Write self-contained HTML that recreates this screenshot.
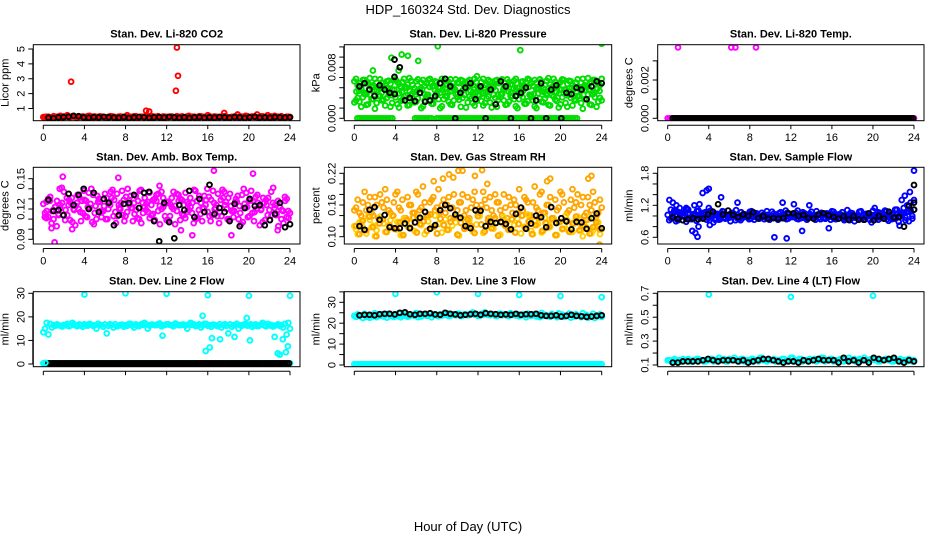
<!DOCTYPE html>
<html><head><meta charset="utf-8"><style>
html,body{margin:0;padding:0;background:#fff}
svg{display:block;font-family:"Liberation Sans",Arial,sans-serif}
</style></head><body>
<svg id="chart" width="936" height="540" viewBox="0 0 936 540" xmlns="http://www.w3.org/2000/svg">
<text x="468" y="14" text-anchor="middle" font-size="13">HDP_160324  Std. Dev. Diagnostics</text>
<text x="468" y="531" text-anchor="middle" font-size="13">Hour of Day (UTC)</text>
</svg>
<script>
// ---------- data ----------
const co2Red=[0.42,0.45,0.40,0.48,0.44,0.50,0.46,0.55,0.43,0.47,0.41,0.45,0.44,0.49,0.42,0.46,0.43,0.45,0.40,0.44,0.47,0.42,0.45,0.43,0.46,0.41,0.44,0.48,0.42,0.45,0.50,0.43,0.47,0.44,0.41,0.46,0.43,0.45,0.42,0.48,0.44,0.40,0.46,0.43,0.45,0.41,0.47,0.44,0.55,0.43,0.46,0.42,0.45,0.48,0.41,0.44,0.47,0.43,0.45,0.50,0.42,0.46,0.44,0.41,0.47,0.43,0.45,0.42,0.46,0.44,0.41,0.45,0.43];
const co2Black=[0.38,0.35,0.40,0.42,0.45,0.50,0.48,0.40,0.38,0.42,0.40,0.44,0.41,0.39,0.38,0.42,0.36,0.40,0.43,0.41,0.38,0.40,0.42,0.39,0.44,0.40,0.38,0.41,0.37,0.40,0.42,0.38,0.41,0.39,0.43,0.40,0.38,0.42,0.40,0.37,0.41,0.44,0.39,0.40,0.38,0.42,0.40,0.39,0.41];
const co2OutX=[2.7,13.0,12.9,13.1,10.0,10.3,17.6,18.9,20.8];
const co2OutY=[2.8,5.1,2.2,3.2,0.85,0.8,0.7,0.6,0.6];

const presA=[0.0058,0.0052,0.0047,0.0060,0.0055,0.0050,0.0062,0.0048,0.0056,0.0053,0.0059,0.0045,0.0061,0.0054,0.0057,0.0049,0.0063,0.0052,0.0058,0.0046,0.0060,0.0055,0.0062,0.0051,0.0057,0.0048,0.0059,0.0053,0.0061,0.0047,0.0056,0.0060,0.0050,0.0058,0.0054,0.0062,0.0049,0.0057,0.0052,0.0060,0.0046,0.0059,0.0055,0.0061,0.0050,0.0057,0.0053,0.0062,0.0048,0.0058,0.0055,0.0060,0.0051,0.0056,0.0061,0.0047,0.0059,0.0053,0.0062,0.0050,0.0057,0.0060,0.0054,0.0058,0.0049,0.0061,0.0056,0.0052,0.0063,0.0057,0.0060,0.0055,0.0062];
const presB=[0.0025,0.0032,0.0018,0.0038,0.0022,0.0030,0.0015,0.0035,0.0028,0.0020,0.0037,0.0024,0.0033,0.0017,0.0029,0.0036,0.0021,0.0031,0.0026,0.0039,0.0019,0.0034,0.0027,0.0023,0.0038,0.0016,0.0030,0.0035,0.0022,0.0028,0.0033,0.0018,0.0037,0.0025,0.0031,0.0020,0.0036,0.0027,0.0024,0.0034,0.0017,0.0032,0.0029,0.0038,0.0021,0.0026,0.0035,0.0019,0.0030,0.0033,0.0023,0.0037,0.0028,0.0016,0.0031,0.0025,0.0036,0.0020,0.0034,0.0027,0.0022,0.0039,0.0018,0.0032,0.0029,0.0035,0.0024,0.0030,0.0037,0.0021,0.0033,0.0026,0.0028];
const presC=[0.0042,0.0046,0.0038,0.0049,0.0044,0.0040,0.0047,0.0036,0.0045,0.0041,0.0048,0.0039,0.0043,0.0046,0.0037,0.0050,0.0042,0.0045,0.0040,0.0047,0.0038,0.0044,0.0049,0.0041,0.0046,0.0039,0.0043,0.0048,0.0037,0.0045,0.0042,0.0047,0.0040,0.0044,0.0049,0.0038,0.0046,0.0041,0.0043,0.0048,0.0039,0.0045,0.0042,0.0047,0.0036,0.0044,0.0046,0.0040,0.0043];
const presZeroRuns=[[0.3,3.7],[5.9,7.5],[8.0,21.6]];
const presOutX=[1.8,3.6,4.3,4.6,5.2,6.2,8.1,11.9,16.1,24.0];
const presOutY=[0.0075,0.0095,0.0075,0.0100,0.0098,0.0090,0.0113,0.0066,0.0107,0.0117];
const presBlack=[0.0050,0.0055,0.0045,0.0035,0.0052,0.0045,0.0040,0.0038,0.0080,0.0028,0.0032,0.0027,0.0040,0.0026,0.0028,0.0035,0.0055,0.0062,0.0050,0.0000,0.0040,0.0048,0.0055,0.0030,0.0050,0.0000,0.0045,0.0022,0.0058,0.0050,0.0000,0.0035,0.0040,0.0048,0.0000,0.0028,0.0055,0.0000,0.0045,0.0052,0.0000,0.0040,0.0038,0.0048,0.0045,0.0030,0.0050,0.0058,0.0055];
const presBlackOutX=[3.9,3.9];
const presBlackOutY=[0.0092,0.0065];

const tempOutX=[1.0,6.2,6.6,8.6];
const tempOutY=[0.0037,0.0037,0.0037,0.0037];

const ambA=[0.125,0.118,0.132,0.110,0.128,0.121,0.137,0.114,0.126,0.119,0.134,0.108,0.129,0.122,0.140,0.116,0.127,0.112,0.135,0.120,0.131,0.117,0.124,0.138,0.113,0.129,0.121,0.133,0.110,0.126,0.119,0.136,0.115,0.128,0.123,0.131,0.109,0.125,0.137,0.118,0.130,0.114,0.127,0.122,0.139,0.111,0.126,0.133,0.117,0.129,0.120,0.135,0.113,0.124,0.131,0.118,0.127,0.110,0.134,0.121,0.128,0.116,0.132,0.123,0.107,0.129,0.119,0.126,0.114,0.122,0.118,0.112,0.116];
const ambB=[0.112,0.130,0.106,0.122,0.115,0.141,0.109,0.124,0.131,0.104,0.120,0.128,0.113,0.136,0.107,0.123,0.130,0.118,0.110,0.127,0.139,0.106,0.121,0.114,0.132,0.124,0.108,0.119,0.138,0.116,0.125,0.111,0.129,0.134,0.105,0.122,0.127,0.113,0.120,0.135,0.109,0.124,0.117,0.131,0.106,0.128,0.115,0.121,0.140,0.108,0.126,0.113,0.129,0.137,0.110,0.123,0.118,0.133,0.105,0.125,0.112,0.138,0.117,0.126,0.120,0.109,0.131,0.114,0.124,0.103,0.119,0.128,0.111];
const ambOutX=[1.1,1.9,7.3,16.6,20.4,0.8,1.6,2.8,11.3,14.5,18.3,13.4,22.8,0.3];
const ambOutY=[0.087,0.152,0.151,0.158,0.155,0.101,0.140,0.100,0.143,0.094,0.094,0.099,0.099,0.127];
const ambBlack=[0.129,0.118,0.119,0.114,0.135,0.124,0.134,0.140,0.120,0.136,0.117,0.130,0.126,0.104,0.114,0.125,0.126,0.134,0.121,0.136,0.137,0.108,0.088,0.126,0.107,0.091,0.124,0.119,0.138,0.112,0.130,0.117,0.144,0.115,0.121,0.117,0.108,0.125,0.103,0.121,0.130,0.123,0.124,0.104,0.109,0.115,0.126,0.102,0.105];

const rhA=[0.120,0.105,0.130,0.112,0.138,0.118,0.101,0.125,0.133,0.109,0.121,0.140,0.114,0.127,0.103,0.131,0.117,0.136,0.108,0.124,0.129,0.111,0.142,0.119,0.106,0.134,0.122,0.113,0.128,0.137,0.104,0.126,0.115,0.132,0.120,0.107,0.139,0.123,0.110,0.130,0.116,0.135,0.102,0.127,0.121,0.113,0.133,0.108,0.124,0.140,0.117,0.129,0.105,0.122,0.136,0.111,0.126,0.119,0.134,0.103,0.128,0.115,0.131,0.109,0.125,0.138,0.112,0.121,0.132,0.106,0.118,0.127,0.114];
const rhB=[0.150,0.170,0.140,0.185,0.160,0.145,0.175,0.135,0.165,0.190,0.150,0.140,0.180,0.155,0.170,0.135,0.160,0.145,0.185,0.150,0.195,0.140,0.165,0.175,0.155,0.145,0.170,0.160,0.135,0.180,0.150,0.165,0.140,0.175,0.155,0.185,0.145,0.160,0.170,0.135,0.150,0.180,0.165,0.140,0.155,0.175,0.145,0.160,0.190,0.150,0.170,0.140,0.165,0.155,0.180,0.145,0.160,0.175,0.135,0.150,0.185,0.165,0.145,0.170,0.155,0.180,0.160,0.140,0.175,0.150,0.165,0.145,0.155];
const rhOutX=[7.7,8.6,9.2,9.6,10.1,10.5,11.7,12.4,12.9,18.7,19.0,22.7,23.0,23.8];
const rhOutY=[0.205,0.210,0.218,0.212,0.225,0.225,0.215,0.226,0.200,0.205,0.210,0.210,0.215,0.085];
const rhBlack=[0.120,0.113,0.151,0.156,0.132,0.141,0.118,0.116,0.116,0.125,0.116,0.127,0.136,0.147,0.115,0.122,0.150,0.160,0.154,0.142,0.136,0.120,0.116,0.150,0.149,0.120,0.128,0.126,0.128,0.124,0.114,0.143,0.155,0.115,0.125,0.140,0.137,0.118,0.156,0.126,0.135,0.129,0.114,0.128,0.127,0.115,0.135,0.144,0.116];

const flowA=[1.02,0.95,1.08,0.92,1.05,0.98,1.12,0.94,1.03,1.10,0.96,1.07,1.15,0.99,1.04,0.93,1.09,1.01,0.97,1.06,1.11,0.95,1.03,0.98,1.08,1.00,1.05,0.96,1.02,1.09,0.99,1.04,0.97,1.07,1.01,1.06,0.98,1.03,1.10,0.96,1.05,1.00,1.08,0.97,1.02,1.06,0.95,1.04,1.09,0.98,1.03,1.07,0.96,1.01,1.05,0.99,1.08,0.97,1.04,1.02,1.10,0.98,1.06,1.01,1.09,0.97,1.04,1.12,1.06,1.15,1.20,1.25,1.30];
const flowB=[0.92,1.00,0.90,0.97,1.01,0.89,0.95,1.03,0.91,0.98,1.05,0.93,0.99,0.88,1.02,0.94,0.97,1.00,0.90,1.04,0.96,0.92,0.99,1.01,0.95,0.93,1.00,0.97,0.94,1.02,0.96,0.99,0.93,1.01,0.97,0.95,1.03,0.98,0.94,1.00,0.96,1.02,0.99,0.93,0.97,1.01,0.95,0.98,1.03,0.94,1.00,0.96,0.99,0.92,1.02,0.97,0.95,1.01,0.98,0.93,1.00,0.96,1.03,0.99,0.94,1.01,0.97,1.04,0.99,1.05,1.08,1.10,1.12];
const flowOutX=[2.4,2.7,2.9,3.0,3.4,3.8,4.0,4.1,1.8,2.6,5.2,10.4,11.6,13.1,15.7,22.6,22.8,23.1,23.6,24.0,6.8,11.2,12.3,13.8,0.8,3.1];
const flowOutY=[0.72,0.68,0.61,0.80,1.43,1.48,1.51,0.83,1.15,1.20,1.35,0.60,0.58,0.72,0.77,0.82,1.30,1.38,1.45,1.85,1.25,1.25,1.22,1.20,1.08,1.22];
const flowBlack=[0.97,0.95,0.92,0.94,0.96,0.94,0.95,1.03,1.08,1.22,1.03,1.10,1.02,0.98,1.03,1.00,1.07,0.96,1.00,0.95,0.96,0.95,0.96,1.05,1.05,1.00,1.02,0.96,0.95,1.03,1.05,1.01,0.98,0.95,1.00,0.93,1.00,0.93,0.93,1.05,0.92,1.00,0.95,1.08,0.97,0.98,0.80,1.19,1.25];
const flowBlackOutX=[24.0,24.0];
const flowBlackOutY=[1.58,1.12];

const l2Cyan=[13.5,17.5,17.0,16.5,16.8,16.2,16.6,17.0,16.4,16.8,16.1,16.5,16.9,16.3,16.7,16.4,17.1,16.5,16.8,16.2,16.6,16.9,16.3,16.7,16.5,17.0,16.4,16.8,16.1,16.6,16.9,16.3,16.7,16.5,17.2,16.4,16.8,16.6,16.0,16.9,16.5,16.7,15.0,17.5,16.8,16.3,15.5,17.0,16.2,15.8,16.6,16.0,15.5,16.9,13.0,15.8,16.5,15.0,16.2,17.0,16.4,15.8,16.8,16.3,17.5,16.0,16.4,15.9,16.5,16.2,15.5,12.5,15.0];
const l2OutX=[4,8,12,16,20,24,11.6,15.5,15.8,16.2,16.4,17.2,19.8,20.1,22.5,22.8,23.0,23.3,23.6,23.8,0.2,18.6];
const l2OutY=[29.5,30.0,29.8,29.2,29.0,29.0,12.0,20.5,5.5,7.0,11.0,10.5,19.5,10.0,11.5,4.5,4.0,10.5,5.0,7.5,0.5,11.5];

const l3Cyan=[23.5,24.2,23.8,24.5,23.2,24.0,24.8,23.6,24.3,23.9,24.6,23.4,24.1,24.7,23.7,24.4,23.3,24.0,24.9,23.8,24.2,23.5,24.6,24.0,23.7,24.3,23.9,24.8,23.6,24.1,24.5,23.4,24.2,23.8,24.7,24.0,23.5,24.4,25.2,23.9,24.1,23.6,24.5,23.8,24.2,23.4,24.0,23.7,23.3,24.1,22.8,23.6,23.9,23.2,22.9,23.5,23.8,23.1,23.6,22.8,23.4,23.0,23.5,22.7,23.2,23.6,22.9,23.3,22.6,23.0,22.5,23.4,23.0];
const l3Black=[23.8,24.0,24.0,23.8,24.3,24.5,24.5,24.2,25.0,25.2,24.3,24.0,24.5,24.5,24.8,24.2,24.0,25.0,24.5,24.2,23.8,24.0,24.3,24.5,24.0,24.8,24.5,24.3,24.0,24.2,24.0,24.5,24.0,24.3,24.3,24.5,23.8,23.5,23.5,23.8,23.2,23.5,24.0,23.5,23.3,23.0,23.2,23.5,23.8];
const l3OutX=[4,8,12,16,20,24];
const l3OutY=[34,34.8,34,33.5,33,32.5];

const l4Cyan=[0.14,0.13,0.15,0.14,0.13,0.14,0.15,0.13,0.14,0.15,0.14,0.13,0.14,0.15,0.14,0.16,0.14,0.13,0.15,0.14,0.14,0.13,0.15,0.14,0.13,0.15,0.14,0.16,0.14,0.13,0.14,0.15,0.14,0.13,0.15,0.14,0.16,0.14,0.13,0.15,0.14,0.13,0.14,0.15,0.14,0.16,0.13,0.14,0.15,0.14,0.13,0.15,0.14,0.16,0.14,0.13,0.15,0.14,0.14,0.13,0.15,0.14,0.13,0.14,0.15,0.14,0.13,0.14,0.15,0.14,0.13,0.14,0.14];
const l4Black=[0.12,0.12,0.13,0.13,0.13,0.13,0.14,0.15,0.14,0.13,0.14,0.14,0.14,0.13,0.14,0.12,0.13,0.14,0.15,0.15,0.14,0.13,0.12,0.13,0.13,0.12,0.14,0.13,0.14,0.15,0.14,0.14,0.14,0.12,0.16,0.13,0.14,0.12,0.14,0.12,0.16,0.15,0.14,0.15,0.16,0.13,0.12,0.14,0.13];
const l4OutX=[4,12,20];
const l4OutY=[0.69,0.67,0.68];

const xTicks=[0,4,8,12,16,20,24];

// ---------- drawing ----------
const NS='http://www.w3.org/2000/svg';
const svg=document.getElementById('chart');
function el(tag,attrs,parent){const e=document.createElementNS(NS,tag);for(const k in attrs)e.setAttribute(k,attrs[k]);(parent||svg).appendChild(e);return e;}

function panel(cfg){
  const g=el('g',{});
  
  
  const [L,T,R,B]=cfg.box;
  const x0=L+10,x1=R-10;
  const sx=h=>x0+(h/24)*(x1-x0);
  const sy=v=>cfg.py0+(v-cfg.v0)*(cfg.py1-cfg.py0)/(cfg.v1-cfg.v0);
  const cid='clip-'+cfg.name;
  const cp=el('clipPath',{id:cid},g);el('rect',{x:L,y:T,width:R-L,height:B-T},cp);
  const pts=el('g',{'clip-path':'url(#'+cid+')'},g);
  function dot(h,v,color,nm){
    const c=el('circle',{cx:sx(h).toFixed(1),cy:sy(v).toFixed(1),r:2.4,fill:'none',stroke:color,'stroke-width':1.9},pts);
    
    
  }
  (cfg.series||[]).forEach(s=>{
    if(s.runs){s.runs.forEach(r=>{for(let h=r[0];h<=r[1]+1e-9;h+=0.2)dot(h,s.level,s.color,s.nm);});}
    else if(s.xs){s.ys.forEach((v,i)=>dot(s.xs[i],v,s.color,s.nm));}
    else{
      const n=s.ys.length,st=(s.b-s.a)/(n-1);
      s.ys.forEach((v,i)=>dot(s.a+st*i,v,s.color,s.nm));
      if(s.dense){s.ys.forEach((v,i)=>{const h=s.a+st*(n-1-i)+st/2;if(h<=s.b)dot(h,v,s.color,s.nm);});}
    }
  });
  const bx=el('rect',{x:L,y:T,width:R-L,height:B-T,fill:'none',stroke:'#000','stroke-width':1},g);
  
  
  const t=el('text',{x:(L+R)/2,y:T-7,'text-anchor':'middle','font-size':11,'font-weight':'bold'},g);t.textContent=cfg.title;
  
  
  const ay=B+4.5;
  el('line',{x1:sx(0),x2:sx(24),y1:ay,y2:ay,stroke:'#000'},g);
  xTicks.forEach(h=>{
    el('line',{x1:sx(h),x2:sx(h),y1:ay,y2:ay+4,stroke:'#000'},g);
    if(cfg.xlabels){const tx=el('text',{x:sx(h),y:ay+16,'text-anchor':'middle','font-size':11},g);tx.textContent=h;
      
      }
  });
  const ty=cfg.ticks.map(sy);
  el('line',{x1:L-0.5,x2:L-0.5,y1:Math.min(...ty),y2:Math.max(...ty),stroke:'#000'},g);
  cfg.ticks.forEach(v=>el('line',{x1:L-5,x2:L,y1:sy(v),y2:sy(v),stroke:'#000'},g));
  cfg.labels.forEach((lab,i)=>{
    const y=sy(cfg.labelVals[i]),x=L-9;
    const tx=el('text',{x:x,y:y,'text-anchor':'middle','font-size':11,transform:`rotate(-90 ${x} ${y})`},g);tx.textContent=lab;
    
    
  });
  const yx=L-25,ym=(T+B)/2;
  const yl=el('text',{x:yx,y:ym,'text-anchor':'middle','font-size':11,transform:`rotate(-90 ${yx} ${ym})`},g);yl.textContent=cfg.ylab;
  
  
}
const range=(a,b,s)=>{const r=[];for(let v=a;v<=b+s/1e3;v+=s)r.push(+v.toFixed(6));return r;};
const C1=[33.3,300],C2=[344.3,611.7],C3=[657.7,924],R1=[44.7,120.7],R2=[167.3,244],R3=[291.7,366.7];
const BK='#000',RD='#ff0000',GR='#00dd00',MG='#ff00ff',OR='#ffa500',YL='#ffd000',BL='#0000ff',CY='#00ffff';

panel({name:'panel-co2',title:'Stan. Dev. Li-820 CO2',ylab:'Licor ppm',box:[C1[0],R1[0],C1[1],R1[1]],v0:1,py0:108.5,v1:5,py1:49,
 ticks:[1,2,3,4,5],labels:['1','2','3','4','5'],labelVals:[1,2,3,4,5],xlabels:true,
 series:[{ys:co2Red,a:0,b:24,color:RD,nm:'co2-point',dense:true},{xs:co2OutX,ys:co2OutY,color:RD,nm:'co2-outlier'},{ys:co2Black,a:0.5,b:24,color:BK,nm:'co2-black-point'}]});
panel({name:'panel-pressure',title:'Stan. Dev. Li-820 Pressure',ylab:'kPa',box:[C2[0],R1[0],C2[1],R1[1]],v0:0,py0:118.3,v1:0.008,py1:67.3,
 ticks:range(0,0.0112,0.0016),labels:['0.000','0.008'],labelVals:[0,0.008],xlabels:true,
 series:[{runs:presZeroRuns,level:0,color:GR,nm:'pressure-zero-point'},{ys:presB,a:0,b:24,color:GR,nm:'pressure-point',dense:true},{ys:presC,a:0.2,b:23.8,color:GR,nm:'pressure-point',dense:true},{ys:presA,a:0,b:24,color:GR,nm:'pressure-point',dense:true},{xs:presOutX,ys:presOutY,color:GR,nm:'pressure-outlier'},{ys:presBlack,a:0.5,b:24,color:BK,nm:'pressure-black-point'},{xs:presBlackOutX,ys:presBlackOutY,color:BK,nm:'pressure-black-outlier'}]});
panel({name:'panel-temp',title:'Stan. Dev. Li-820 Temp.',ylab:'degrees C',box:[C3[0],R1[0],C3[1],R1[1]],v0:0,py0:118.3,v1:0.002,py1:80,
 ticks:[0,0.001,0.002,0.003],labels:['0.000','0.002'],labelVals:[0,0.002],xlabels:true,
 series:[{runs:[[0,24]],level:0,color:MG,nm:'temp-point'},{runs:[[0.5,24]],level:0,color:BK,nm:'temp-black-point'},{xs:tempOutX,ys:tempOutY,color:MG,nm:'temp-outlier'}]});
panel({name:'panel-amb-temp',title:'Stan. Dev. Amb. Box Temp.',ylab:'degrees C',box:[C1[0],R2[0],C1[1],R2[1]],v0:0.09,py0:239.3,v1:0.15,py1:178.7,
 ticks:range(0.09,0.15,0.01),labels:['0.09','0.12','0.15'],labelVals:[0.09,0.12,0.15],xlabels:true,
 series:[{ys:ambA,a:0,b:24,color:MG,nm:'amb-point',dense:true},{ys:ambB,a:0.15,b:23.85,color:MG,nm:'amb-point',dense:true},{xs:ambOutX,ys:ambOutY,color:MG,nm:'amb-outlier'},{ys:ambBlack,a:0.5,b:24,color:BK,nm:'amb-black-point'}]});
panel({name:'panel-rh',title:'Stan. Dev. Gas Stream RH',ylab:'percent',box:[C2[0],R2[0],C2[1],R2[1]],v0:0.10,py0:236.7,v1:0.22,py1:173.3,
 ticks:range(0.10,0.22,0.02),labels:['0.10','0.16','0.22'],labelVals:[0.10,0.16,0.22],xlabels:true,
 series:[{ys:rhB,a:0,b:24,color:OR,nm:'rh-point',dense:true},{ys:rhA,a:0,b:24,color:YL,nm:'rh-point',dense:true},{ys:rhA,a:0.17,b:23.8,color:OR,nm:'rh-point'},{xs:rhOutX,ys:rhOutY,color:OR,nm:'rh-outlier'},{ys:rhBlack,a:0.5,b:24,color:BK,nm:'rh-black-point'}]});
panel({name:'panel-sample-flow',title:'Stan. Dev. Sample Flow',ylab:'ml/min',box:[C3[0],R2[0],C3[1],R2[1]],v0:0.6,py0:237.3,v1:1.8,py1:173.3,
 ticks:range(0.6,1.8,0.2),labels:['0.6','1.2','1.8'],labelVals:[0.6,1.2,1.8],xlabels:true,
 series:[{ys:flowA,a:0,b:24,color:BL,nm:'flow-point',dense:true},{ys:flowB,a:0.15,b:24,color:BL,nm:'flow-point',dense:true},{xs:flowOutX,ys:flowOutY,color:BL,nm:'flow-outlier'},{ys:flowBlack,a:0.5,b:24,color:BK,nm:'flow-black-point'},{xs:flowBlackOutX,ys:flowBlackOutY,color:BK,nm:'flow-black-outlier'}]});
panel({name:'panel-line2',title:'Stan. Dev. Line 2 Flow',ylab:'ml/min',box:[C1[0],R3[0],C1[1],R3[1]],v0:0,py0:364,v1:30,py1:293.3,
 ticks:[0,10,20,30],labels:['0','10','20','30'],labelVals:[0,10,20,30],xlabels:false,
 series:[{runs:[[0,24]],level:0.3,color:CY,nm:'line2-zero-point'},{runs:[[0.5,24]],level:0.3,color:BK,nm:'line2-black-point'},{ys:l2Cyan,a:0,b:24,color:CY,nm:'line2-point',dense:true},{xs:l2OutX,ys:l2OutY,color:CY,nm:'line2-outlier'}]});
panel({name:'panel-line3',title:'Stan. Dev. Line 3 Flow',ylab:'ml/min',box:[C2[0],R3[0],C2[1],R3[1]],v0:0,py0:365,v1:30,py1:302.3,
 ticks:range(0,35,5),labels:['0','10','20','30'],labelVals:[0,10,20,30],xlabels:false,
 series:[{runs:[[0,24]],level:0.4,color:CY,nm:'line3-zero-point'},{ys:l3Cyan,a:0,b:24,color:CY,nm:'line3-point',dense:true},{xs:l3OutX,ys:l3OutY,color:CY,nm:'line3-outlier'},{ys:l3Black,a:0.5,b:24,color:BK,nm:'line3-black-point'}]});
panel({name:'panel-line4',title:'Stan. Dev. Line 4 (LT) Flow',ylab:'ml/min',box:[C3[0],R3[0],C3[1],R3[1]],v0:0.1,py0:365,v1:0.7,py1:293.3,
 ticks:range(0.1,0.7,0.1),labels:['0.1','0.3','0.5','0.7'],labelVals:[0.1,0.3,0.5,0.7],xlabels:false,
 series:[{ys:l4Cyan,a:0,b:24,color:CY,nm:'line4-point',dense:true},{xs:l4OutX,ys:l4OutY,color:CY,nm:'line4-outlier'},{ys:l4Black,a:0.5,b:24,color:BK,nm:'line4-black-point'}]});
</script>
</body></html>
